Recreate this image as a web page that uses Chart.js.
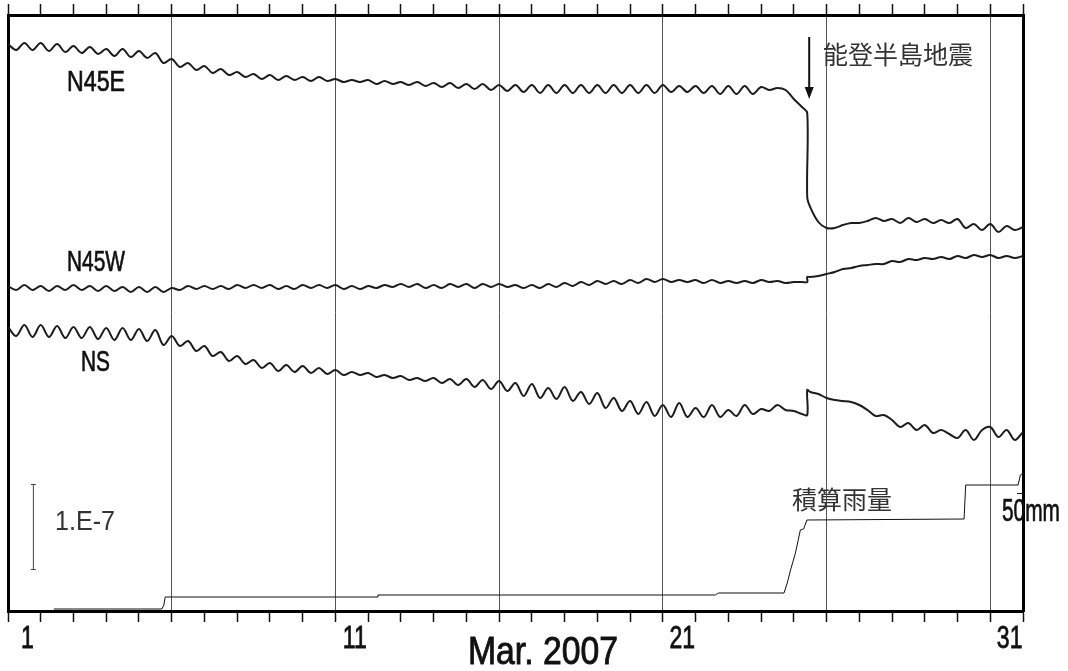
<!DOCTYPE html>
<html><head><meta charset="utf-8">
<script src="https://cdn.jsdelivr.net/npm/chart.js@4.4.0/dist/chart.umd.min.js"></script>
<style>html,body{margin:0;padding:0;background:#fff;overflow:hidden}canvas{display:block}</style>
</head><body>
<canvas id="c" width="1068" height="671"></canvas>
<script>
// ---- data (tilt offsets in arbitrary units, samples every 0.25 day from Mar 1 00:00) ----
const sampleStep = 0.25;
const n45e = [567,561,568,561,568,560,567,559,565,558,564,557,562,555,562,554,
560,553,558,548,552,544,548,541,545,538,542,536,539,534,537,532,
536,531,535,531,534,530,534,530,532,529,531,529,531,527,530,527,
529,526,529,525,528,524,528,523,527,522,527,521,526,520,526,519,
526,518,526,518,526,518,526,518,526,518,526,518,526,518,526,518,
526,519,525,519,525,518,525,517,525,517,525,517,524,521,523,521,512,504,
404,389,383,383,386,388,388,390,393,390,392,388,393,389,392,388,391,388,392,383,387,381,387,379,385,381,384];
const n45w = [325,321,326,321,325,320,325,321,326,321,325,320,325,320,324,319,324,319,324,319,
323,321,325,322,325,322,325,322,326,323,326,323,326,322,325,322,326,323,326,323,
326,322,325,322,325,323,326,324,327,324,327,323,326,323,327,324,327,323,327,324,
327,324,326,323,326,323,327,324,328,325,329,326,330,327,330,327,331,328,332,329,
332,329,331,329,331,328,331,328,330,328,330,328,331,329,330,328,329,329,
334,335,337,339,342,343,345,346,347,347,350,349,352,351,353,352,354,352,355,353,356,354,356,353,355,353,355];
const ns = [284,275,286,274,286,274,285,273,284,273,284,272,283,271,283,271,282,270,281,266,
275,265,270,260,265,255,259,250,255,247,251,243,248,240,246,239,245,238,243,237,
241,236,239,236,238,234,236,233,235,231,233,230,233,228,232,226,232,224,231,222,
230,220,228,215,227,213,223,212,224,210,219,207,218,203,213,200,210,197,209,195,
206,194,208,194,203,194,206,194,201,195,206,197,202,200,206,201,200,197,
219,217,213,211,210,209,206,201,195,196,191,184,188,181,186,178,181,177,173,181,171,181,184,174,181,171,179];
// earthquake (Noto Hanto, Mar 25 09:41) coseismic steps: [before, after]
const quakeDay = 24.41;
const n45eStep = [498, 414];
const n45wStep = [329, 334];
const nsStep = [196, 221];
// cumulative rainfall
const rainDays = [1.4, 4.70, 4.76, 4.80, 11.27, 11.30, 21.6, 21.7, 23.7, 23.8, 23.9, 24.05, 24.2, 24.3, 24.4, 29.2, 29.25, 30.85, 30.92, 31];
const rainVals = [2, 2, 6, 14, 14, 16, 16, 18, 18, 28, 41, 58, 81, 82, 91, 92, 126, 126, 136, 138];
const rainMarkValue = 118; // 50 mm mark
// axis labels
const dayLabelDays = [0, 10, 20, 30];
const dayLabels = ['1', '11', '21', '31'];
const monthLabel = 'Mar. 2007';

// ---- build ----
const sampleDays = n45e.map((_, i) => i * sampleStep);
function series(vals, step) {
  const pts = vals.map((v, i) => ({x: sampleDays[i], y: v}));
  const j = pts.findIndex(p => p.x > quakeDay);
  pts.splice(j, 0, {x: quakeDay, y: step[0]}, {x: quakeDay, y: step[1]});
  return pts;
}
const LAT = '"Liberation Sans", Arial, sans-serif';
const CJK = '"Noto Sans CJK JP", "Noto Sans CJK SC", sans-serif';
const textItems = [
  {text:'N45E', x:67, y:91, size:29, width:58, bold:0.7},
  {text:'N45W', x:67, y:271, size:29, width:58, bold:0.7},
  {text:'NS', x:81, y:371, size:29, width:29, bold:0.7},
  {text:'能登半島地震', x:823, y:54, size:25, family:CJK, baseline:'middle', color:'#333'},
  {text:'積算雨量', x:792, y:499, size:25, family:CJK, baseline:'middle', color:'#333'},
  {text:'50mm', x:1002, y:521, size:32, width:58, bold:0.7},
  {text:'1.E-7', x:55, y:530, size:27, width:60, color:'#333'},
  {text:monthLabel, x:468, y:664, size:39, width:150, bold:0.9}
];
function drawText(ctx, t) {
  ctx.save();
  ctx.font = `${t.size}px ${t.family || LAT}`;
  ctx.fillStyle = t.color || '#111';
  ctx.strokeStyle = t.color || '#111';
  ctx.textBaseline = t.baseline || 'alphabetic';
  ctx.textAlign = t.align || 'left';
  const w = ctx.measureText(t.text).width;
  const sx = t.sx || (t.width ? t.width / w : 1);
  ctx.translate(t.x, t.y);
  ctx.scale(sx, 1);
  ctx.fillText(t.text, 0, 0);
  if (t.bold) { ctx.lineWidth = t.bold; ctx.strokeText(t.text, 0, 0); }
  ctx.restore();
}
const annot = {
  id: 'annot',
  afterDraw(chart) {
    const ctx = chart.ctx, xs = chart.scales.x, ys = chart.scales.y;
    // day labels
    dayLabelDays.forEach((d, i) => drawText(ctx, {text: dayLabels[i], x: xs.getPixelForValue(d + 0.5) + 3, y: 648, size: 32, sx: 0.72, align: 'center', bold: 0.8}));
    textItems.forEach(t => drawText(ctx, t));
    // earthquake arrow
    const ax = xs.getPixelForValue(24.47);
    const yTop = ys.getPixelForValue(574), yTip = ys.getPixelForValue(512);
    ctx.save();
    ctx.strokeStyle = '#111'; ctx.fillStyle = '#111'; ctx.lineWidth = 2;
    ctx.beginPath(); ctx.moveTo(ax, yTop); ctx.lineTo(ax, yTip - 8); ctx.stroke();
    ctx.beginPath(); ctx.moveTo(ax - 4.5, yTip - 12); ctx.lineTo(ax + 4.5, yTip - 12); ctx.lineTo(ax, yTip); ctx.closePath(); ctx.fill();
    // scale bar 1.E-7
    const bx = xs.getPixelForValue(0.76);
    const b1 = ys.getPixelForValue(127), b2 = ys.getPixelForValue(41);
    ctx.strokeStyle = '#444'; ctx.lineWidth = 1;
    ctx.beginPath();
    ctx.moveTo(bx + 0.5, b1); ctx.lineTo(bx + 0.5, b2);
    ctx.moveTo(bx - 2, b1 + 0.5); ctx.lineTo(bx + 3, b1 + 0.5);
    ctx.moveTo(bx - 2, b2 - 0.5); ctx.lineTo(bx + 3, b2 - 0.5);
    ctx.stroke();
    // 50mm mark on right edge
    const my = Math.round(ys.getPixelForValue(rainMarkValue)) + 0.5;
    const rx = chart.chartArea.right;
    ctx.strokeStyle = '#111';
    ctx.beginPath(); ctx.moveTo(rx - 6, my); ctx.lineTo(rx, my); ctx.stroke();
    ctx.restore();
  }
};
const lineStyle = {borderColor: '#1c1c1c', borderWidth: 2, pointRadius: 0, tension: 0.35, fill: false};
const xAxisBase = (pos, onArea) => ({
  type: 'linear', position: pos, min: 0, max: 31,
  ticks: {display: false, stepSize: 1, maxTicksLimit: 40, autoSkip: false},
  grid: {display: true, drawOnChartArea: onArea, drawTicks: true, tickLength: 11, tickWidth: 1.5, tickColor: '#111', lineWidth: 1,
    color: c => (c.tick && c.tick.value % 5 === 0 && c.tick.value > 0 && c.tick.value < 31) ? '#555' : 'rgba(0,0,0,0)'},
  border: {display: true, color: '#000', width: 3}
});
const yAxisBase = pos => ({
  type: 'linear', position: pos, min: 0, max: 596,
  ticks: {display: false}, grid: {display: false, drawTicks: false},
  border: {display: true, color: '#000', width: 3}
});
new Chart(document.getElementById('c'), {
  type: 'line',
  data: {datasets: [
    Object.assign({label: 'N45E', data: series(n45e, n45eStep)}, lineStyle),
    Object.assign({label: 'N45W', data: series(n45w, n45wStep)}, lineStyle),
    Object.assign({label: 'NS', data: series(ns, nsStep)}, lineStyle),
    {label: '積算雨量', data: rainDays.map((d, i) => ({x: d, y: rainVals[i]})), borderColor: '#111', borderWidth: 1, pointRadius: 0, tension: 0, fill: false}
  ]},
  options: {
    responsive: false, animation: false, devicePixelRatio: 1,
    layout: {padding: {left: 8, right: 45, top: 4, bottom: 49}},
    plugins: {legend: {display: false}, tooltip: {enabled: false}},
    scales: {
      x: xAxisBase('bottom', true),
      xTop: xAxisBase('top', false),
      y: yAxisBase('left'),
      yRight: yAxisBase('right')
    }
  },
  plugins: [annot]
});
</script>
</body></html>
